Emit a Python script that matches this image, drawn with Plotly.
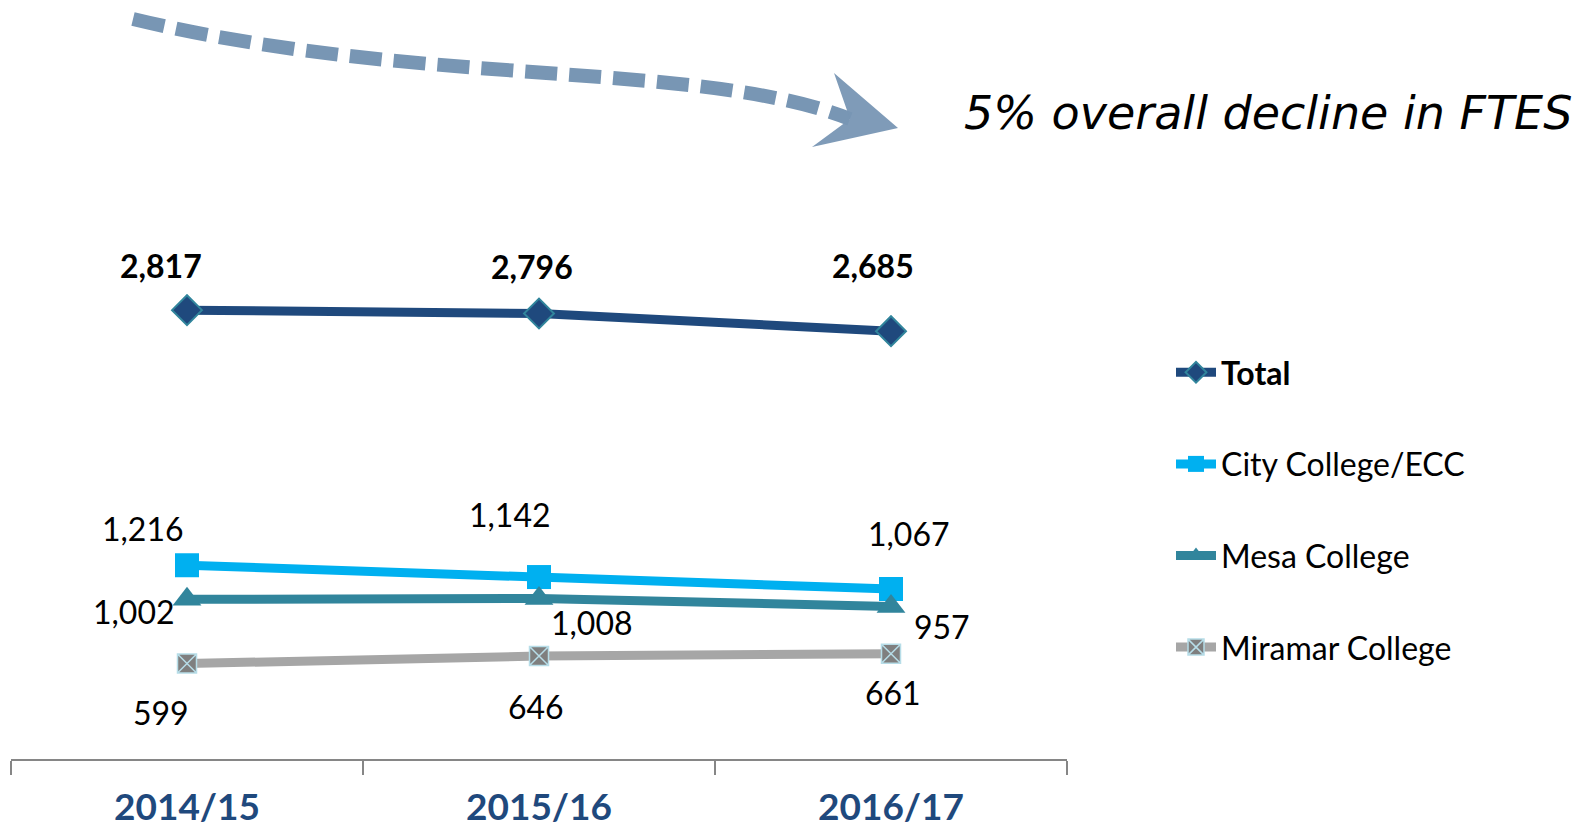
import plotly.graph_objects as go

# ---- data ----
years = ["2014/15", "2015/16", "2016/17"]
total = [2817, 2796, 2685]
city = [1216, 1142, 1067]
mesa = [1002, 1008, 957]
miramar = [599, 646, 661]
series_names = ["<b>Total</b>", "City College/ECC", "Mesa College", "Miramar College"]
note_text = "5% overall decline in FTES"

# ---- layout constants ----
W, H = 1586, 833
OFF = 8  # page body margin
ML = 11 - OFF
MT = 281 - OFF
PLOT_BOTTOM = 759 - OFF
PW = 1056
MR = W - ML - PW
MB = H - PLOT_BOTTOM
PH = H - MT - MB

def px(x):
    """screen pixel x -> paper"""
    return (x - OFF - ML) / PW

def py(y):
    """screen pixel y -> paper"""
    return (PLOT_BOTTOM - (y - OFF)) / PH

FONT = "Lato, 'Open Sans', sans-serif"

styles = [
    dict(color="#1F497D", symbol="diamond", msize=23, mcolor="#1F497D", mline="#31859C", mlw=2),
    dict(color="#00B0F0", symbol="square", msize=24, mcolor="#00B0F0", mline="#00B0F0", mlw=0),
    dict(color="#31859C", symbol="triangle-up", msize=25, mcolor="#31859C", mline="#31859C", mlw=0),
    dict(color="#A6A6A6", symbol="square-x", msize=19, mcolor="#7F7F7F", mline="#B7DDE8", mlw=1.5),
]

# label offsets (px) per series per point
offsets = [
    [(-26, -45), (-7, -47), (-18, -66)],
    [(-44, -37), (-29, -63), (18, -55)],
    [(-53, 12), (53, 24), (51, 20)],
    [(-26, 49), (-3, 50), (2, 39)],
]

fig = go.Figure()
all_series = [total, city, mesa, miramar]
for i, (vals, name, st) in enumerate(zip(all_series, series_names, styles)):
    fig.add_trace(go.Scatter(
        x=years, y=vals, name=name, mode="lines+markers",
        legendgroup=f"g{i}",
        line=dict(color=st["color"], width=9),
        marker=dict(symbol=st["symbol"], size=st["msize"], color=st["mcolor"],
                    line=dict(color=st["mline"], width=st["mlw"])),
        cliponaxis=False,
    ))
    for j, (xv, yv) in enumerate(zip(years, vals)):
        dx, dy = offsets[i][j]
        txt = f"{yv:,}"
        if i == 0:
            txt = f"<b>{txt}</b>"
        fig.add_annotation(x=xv, y=yv, text=txt, showarrow=False,
                           xshift=dx, yshift=-dy,
                           font=dict(family=FONT, size=32, color="#000000"))

# dashed curved arrow (decorative)
pts = [(133, 19), (420, 88), (700, 60), (850, 119)]
path = "M {} {} C {} {}, {} {}, {} {}".format(
    px(pts[0][0]), py(pts[0][1]), px(pts[1][0]), py(pts[1][1]),
    px(pts[2][0]), py(pts[2][1]), px(pts[3][0]), py(pts[3][1]))
fig.add_shape(type="path", xref="paper", yref="paper", path=path,
              line=dict(color="#7896B4", width=14, dash="32px,12px"))
head = [(834, 73), (898, 128), (812, 147), (850, 119)]
hpath = "M " + " L ".join(f"{px(a)} {py(b)}" for a, b in head) + " Z"
fig.add_shape(type="path", xref="paper", yref="paper", path=hpath,
              fillcolor="#7896B4", line=dict(width=0), opacity=0.95)

fig.add_annotation(xref="paper", yref="paper", x=px(962), y=py(113),
                   xanchor="left", yanchor="middle", showarrow=False,
                   text=f"<i>{note_text}</i>",
                   font=dict(family="'DejaVu Sans', sans-serif", size=46, color="#000000"))

fig.update_layout(
    width=W, height=H,
    margin=dict(l=ML, r=MR, t=MT, b=MB),
    paper_bgcolor="white", plot_bgcolor="white",
    font=dict(family=FONT, size=32, color="#000000"),
    showlegend=True,
    legend=dict(x=px(1171), y=py(345), xanchor="left", yanchor="top",
                font=dict(family=FONT, size=32, color="#000000"),
                tracegroupgap=47, itemwidth=40, bgcolor="rgba(0,0,0,0)"),
    xaxis=dict(type="category", range=[-0.5, 2.5], showgrid=False, zeroline=False,
               showline=True, linecolor="#868686", linewidth=2,
               ticks="outside", tickson="boundaries", ticklen=14, tickcolor="#868686", tickwidth=2,
               tickfont=dict(family=FONT, size=37, color="#1F497D", weight="bold"),
               ticklabelstandoff=15, automargin=False),
    yaxis=dict(range=[0, 3000], visible=False, showgrid=False, zeroline=False),
)

fig.write_html("out.html")
